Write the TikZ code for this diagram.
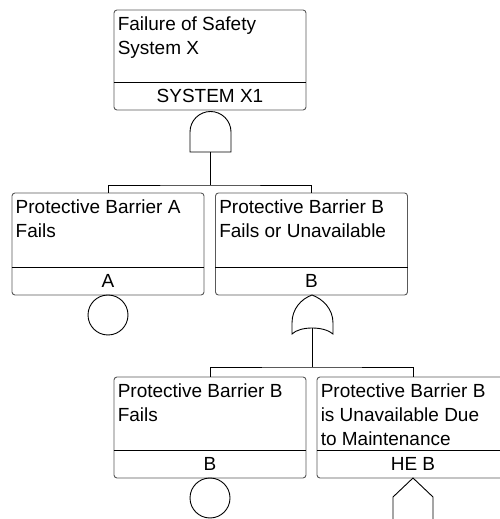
\documentclass[tikz,border=0pt]{standalone}
\usepackage{fontspec}
\setmainfont{Liberation Sans}
\usetikzlibrary{calc}
\tikzset{
  x=1pt,y=1pt,
  evbox/.style={draw=black!65,line width=0.9pt,rounded corners=3pt,minimum width=192pt,inner sep=0pt,fill=white},
  evtext/.style={anchor=north west,inner sep=0pt,align=left,font=\fontsize{19}{24}\selectfont},
  evlabel/.style={inner sep=0pt,font=\fontsize{19}{24}\selectfont},
  conn/.style={draw=black,line width=0.9pt},
  gate/.style={draw=black,line width=0.9pt,fill=white},
}
\begin{document}
\begin{tikzpicture}
\useasboundingbox (0,0) rectangle (500,519);
\clip (0,0) rectangle (500,519);
% event boxes
\node[evbox,minimum height=100pt] (top) at (210,459) {};
\node[evbox,minimum height=102pt] (pa) at (108,275) {};
\node[evbox,minimum height=102pt] (pb) at (311.5,275) {};
\node[evbox,minimum height=101pt] (pbf) at (210,91.5) {};
\node[evbox,minimum height=101pt] (pbm) at (413,91.5) {};
% dividers
\foreach \b in {top,pa,pb,pbf,pbm}{
  \draw[conn] ([yshift=28pt]\b.south west) -- ([yshift=28pt]\b.south east);
}
% texts
\node[evtext] (topT) at ($(top.north west)+(4,-6.5)$) {Failure of Safety\\System X};
\node[evlabel] (topL) at ([yshift=14pt]top.south) {SYSTEM X1};
\node[evtext] (paT) at ($(pa.north west)+(4,-6.5)$) {Protective Barrier A\\Fails};
\node[evlabel] (paL) at ([yshift=14pt]pa.south) {A};
\node[evtext] (pbT) at ($(pb.north west)+(4,-6.5)$) {Protective Barrier B\\Fails or Unavailable};
\node[evlabel] (pbL) at ([yshift=14pt]pb.south) {B};
\node[evtext] (pbfT) at ($(pbf.north west)+(4,-6.5)$) {Protective Barrier B\\Fails};
\node[evlabel] (pbfL) at ([yshift=14pt]pbf.south) {B};
\node[evtext] (pbmT) at ($(pbm.north west)+(4,-6.5)$) {Protective Barrier B\\is Unavailable Due\\to Maintenance};
\node[evlabel] (pbmL) at ([yshift=14pt]pbm.south) {HE B};
% AND gate
\draw[gate] (190,367) -- (190,387) arc[start angle=180,end angle=0,radius=20.5] -- (231,367) -- cycle;
\coordinate (andOut) at (210.5,367);
\coordinate (j1) at (210.5,334);
\draw[conn] (andOut) -- (j1);
\draw[conn] (pa.north) |- (j1) -| (pb.north);
% basic event circle A
\node[draw=black,line width=0.9pt,circle,minimum size=40pt,inner sep=0pt] (cA) at (108,204) {};
% OR gate
\draw[gate] (312,224) .. controls (301,220) and (292,210) .. (292,196)
  -- (292,185) .. controls (300,193) and (324,193) .. (333,185)
  -- (333,196) .. controls (333,210) and (323,220) .. (312,224) -- cycle;
\coordinate (orOut) at (312,191);
\coordinate (j2) at (312,152);
\draw[conn] (orOut) -- (j2);
\draw[conn] (pbf.north) |- (j2) -| (pbm.north);
% basic event circle B
\node[draw=black,line width=0.9pt,circle,minimum size=40pt,inner sep=0pt] (cB) at (210,21) {};
% house event
\draw[gate] (413,41) -- (433,22) -- (433,-5) -- (393,-5) -- (393,22) -- cycle;
\end{tikzpicture}
\end{document}
